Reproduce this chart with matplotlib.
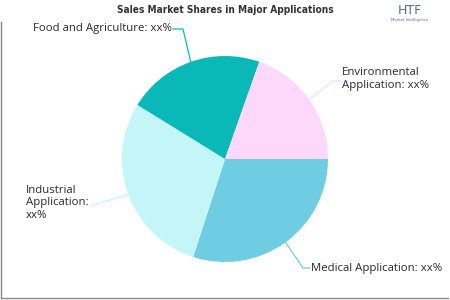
import numpy as np
import matplotlib.pyplot as plt
from matplotlib import font_manager

# slice order: clockwise from 3 o'clock
apps = ['Medical Application', 'Industrial Application', 'Food and Agriculture',
        'Environmental Application']
shares = [30.0, 28.8, 21.6, 19.6]
colors = ['#6ecde3', '#c4f5f7', '#0bb8b8', '#fdd8fb']
label_txt = ['Medical Application: xx%', 'Industrial\nApplication:\nxx%',
             'Food and Agriculture: xx%', 'Environmental\nApplication: xx%']
line_colors = ['#6ecde3', '#c4f5f7', '#0bb8b8', '#fdd8fb']


def pick_title_font():
    names = {f.name for f in font_manager.fontManager.ttflist}
    for n in ['Liberation Sans Narrow', 'DejaVu Sans Condensed']:
        if n in names:
            return n, 'normal'
    return 'DejaVu Sans', 'condensed'


def main():
    fig = plt.figure(figsize=(4.5, 3), dpi=100)
    ax = fig.add_axes([0, 0, 1, 1])

    cx, cy, r = 225, 159, 103
    wedges, _ = ax.pie(shares, colors=colors, startangle=0, counterclock=True,
                       center=(cx, cy), radius=r,
                       wedgeprops=dict(linewidth=0))
    ax.set_xlim(0, 450)
    ax.set_ylim(300, 0)
    ax.set_aspect('equal')
    ax.axis('off')

    # label text position, knee point (None = straight line), alignment
    lab_pos = [(311, 268), (26, 203), (172, 29), (342, 79)]
    knees = [(303, 268), None, (183, 29), (333, 81)]
    ends = [(303, 268), (90, 206), (183, 29), (333, 81)]
    ha = ['left', 'left', 'right', 'left']
    for w, txt, lp, kn, en, h, lc in zip(wedges, label_txt, lab_pos, knees,
                                         ends, ha, line_colors):
        mid = np.deg2rad((w.theta1 + w.theta2) / 2)
        sx, sy = cx + r * np.cos(mid), cy + r * np.sin(mid)
        xs, ys = [sx, en[0]], [sy, en[1]]
        if kn is not None:
            xs.append(lp[0] + (-1 if h == 'left' else 1))
            ys.append(kn[1])
        ax.plot(xs, ys, color=lc, lw=0.9)
        ax.text(lp[0], lp[1], txt, ha=h, va='center', fontsize=8.2,
                family='Open Sans', color='#2a2a2a', linespacing=1.15)

    fam, stretch = pick_title_font()
    t = ax.text(225, 10, 'Sales Market Shares in Major Applications', ha='center',
                va='center', fontsize=9.5, fontweight='bold', family=fam,
                fontstretch=stretch, color='#333333')
    # squeeze the title to the reference width if the font is too wide
    fig.canvas.draw()
    wpx = t.get_window_extent().width
    if wpx > 222:
        t.set_fontsize(9.5 * 218 / wpx)

    # logo
    ax.text(410, 11, 'HTF', ha='center', va='center', fontsize=9,
            color='#5a6c8c', family='DejaVu Sans')
    ax.text(410, 19.5, 'Market Intelligence', ha='center', va='center',
            fontsize=2.8, color='#5a6c8c')

    # frame lines
    ax.plot([1, 1], [22, 298], color='#888888', lw=1)
    ax.plot([1, 448], [298, 298], color='#888888', lw=1)

    plt.savefig('out.png', dpi=100)


if __name__ == '__main__':
    main()
